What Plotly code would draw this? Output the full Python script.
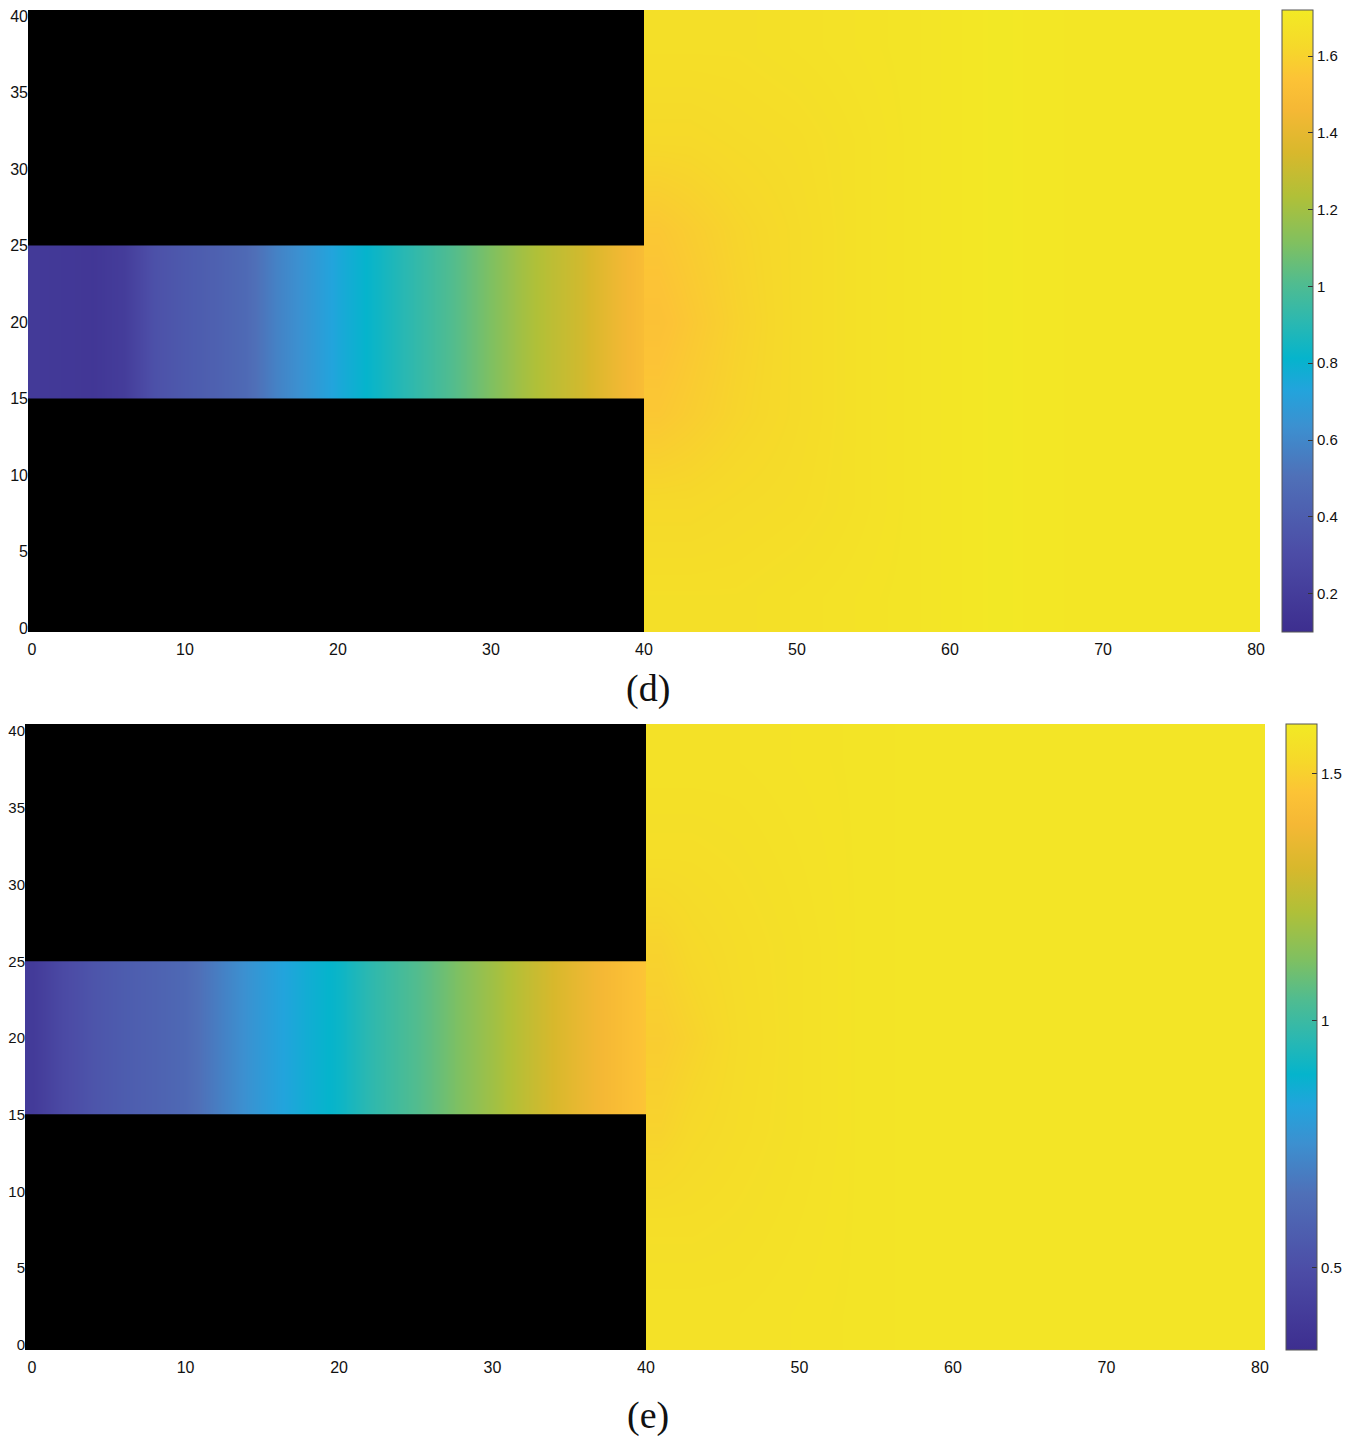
import plotly.graph_objects as go

# page is drawn with an 8 px body margin; lay out in screen pixels and shift
OFF = 8
W, H = 1350 - OFF, 1448 - OFF

# ---- colour scale (parula-like, as printed) ----
parula = [
    [0.000, "#3d2e8f"],
    [0.125, "#4c4ca6"],
    [0.250, "#4f70b8"],
    [0.330, "#3c90d0"],
    [0.390, "#22a4dc"],
    [0.440, "#05b4cc"],
    [0.500, "#2cb8b0"],
    [0.560, "#50bc90"],
    [0.625, "#80c060"],
    [0.700, "#b0c038"],
    [0.770, "#d8b82c"],
    [0.840, "#f5b835"],
    [0.890, "#fcc336"],
    [0.940, "#f6d82a"],
    [1.000, "#f2ea24"],
]

# ---- channel (x 0..40, y 15..25) profiles ----
chan_x = [0, 2, 4, 6, 8, 10, 12, 14, 16, 18, 20, 22, 24, 26, 28, 30, 32, 34, 36, 38, 40]
chan_y = [17.5, 22.5]
chan_d = [0.18, 0.17, 0.16, 0.20, 0.33, 0.38, 0.42, 0.47, 0.58, 0.66,
          0.75, 0.82, 0.89, 0.96, 1.03, 1.11, 1.20, 1.27, 1.33, 1.42, 1.50]
chan_e = [0.40, 0.48, 0.53, 0.565, 0.59, 0.62, 0.69, 0.76, 0.82, 0.865,
          0.905, 0.97, 1.02, 1.07, 1.13, 1.19, 1.25, 1.31, 1.37, 1.42, 1.47]

# ---- open region (x 40..80, y 0..40) ----
open_x = [41, 43, 46, 50, 54, 58, 63, 68, 73, 78]
open_y = [2, 8, 14, 20, 26, 32, 38]
d_y20 = [1.53, 1.56, 1.60, 1.64, 1.67, 1.69, 1.71, 1.70, 1.70, 1.70]
d_y14 = [1.56, 1.58, 1.61, 1.64, 1.67, 1.69, 1.71, 1.70, 1.70, 1.70]
d_y08 = [1.63, 1.63, 1.64, 1.65, 1.67, 1.69, 1.71, 1.70, 1.70, 1.70]
d_y02 = [1.66, 1.66, 1.66, 1.67, 1.68, 1.69, 1.71, 1.70, 1.70, 1.70]
e_y20 = [1.49, 1.51, 1.54, 1.56, 1.575, 1.58, 1.58, 1.58, 1.58, 1.58]
e_y14 = [1.51, 1.53, 1.545, 1.56, 1.575, 1.58, 1.58, 1.58, 1.58, 1.58]
e_y08 = [1.55, 1.55, 1.555, 1.565, 1.575, 1.58, 1.58, 1.58, 1.58, 1.58]
e_y02 = [1.565, 1.565, 1.565, 1.57, 1.575, 1.58, 1.58, 1.58, 1.58, 1.58]

# colour bar ranges and ticks
d_range = [0.1, 1.72]
d_ticks = [0.2, 0.4, 0.6, 0.8, 1.0, 1.2, 1.4, 1.6]
d_ticktext = ["0.2", "0.4", "0.6", "0.8", "1", "1.2", "1.4", "1.6"]
e_range = [0.334, 1.601]
e_ticks = [0.5, 1.0, 1.5]
e_ticktext = ["0.5", "1", "1.5"]

x_ticks = [0, 10, 20, 30, 40, 50, 60, 70, 80]
y_ticks = [0, 5, 10, 15, 20, 25, 30, 35, 40]

fig = go.Figure()

def add_panel(chan, rows, xa, ya, ca):
    fig.add_trace(go.Heatmap(x=chan_x, y=chan_y, z=[chan, chan], coloraxis=ca,
                             zsmooth="best", xaxis=xa, yaxis=ya, hoverinfo="skip"))
    y02, y08, y14, y20 = rows
    fig.add_trace(go.Heatmap(x=open_x, y=open_y, z=[y02, y08, y14, y20, y14, y08, y02],
                             coloraxis=ca, zsmooth="best", xaxis=xa, yaxis=ya,
                             hoverinfo="skip"))

add_panel(chan_d, (d_y02, d_y08, d_y14, d_y20), "x", "y", "coloraxis")
add_panel(chan_e, (e_y02, e_y08, e_y14, e_y20), "x2", "y2", "coloraxis2")

def fx(px):
    return (px - OFF) / W

def fy(py):
    return 1 - (py - OFF) / H

def px_x(a, b):
    return [fx(a), fx(b)]

def px_y(top, bottom):
    return [fy(bottom), fy(top)]

sans = "Liberation Sans, Arial, sans-serif"
xcommon = dict(tickvals=x_ticks, showgrid=False, zeroline=False,
               showline=False, ticks="outside", ticklen=3, tickcolor="rgba(0,0,0,0)",
               tickfont=dict(family=sans, size=16, color="#111"),
               fixedrange=True, automargin=False)
ycommon = dict(tickvals=y_ticks, showgrid=False, zeroline=False,
               showline=False, ticks="", fixedrange=True,
               automargin=False, ticklabeloverflow="allow", ticklabelstandoff=-1)

cb_common = dict(thickness=31, thicknessmode="pixels", lenmode="fraction",
                 xanchor="left", yanchor="middle", ticks="inside", ticklen=5,
                 tickcolor="#333", outlinecolor="#555", outlinewidth=1,
                 tickfont=dict(family=sans, size=15, color="#111"),
                 xpad=0, ypad=0)

fig.update_layout(
    width=W, height=H,
    margin=dict(l=0, r=0, t=0, b=0, autoexpand=False),
    paper_bgcolor="white",
    plot_bgcolor="black",
    showlegend=False,
    xaxis=dict(domain=px_x(28, 1260), anchor="y", range=[-0.26, 80.26], **xcommon),
    yaxis=dict(domain=px_y(10, 632), anchor="x", range=[-0.26, 40.39],
               tickfont=dict(family=sans, size=16, color="#111"), **ycommon),
    xaxis2=dict(domain=px_x(25, 1265), anchor="y2", range=[-0.46, 80.33], **xcommon),
    yaxis2=dict(domain=px_y(724, 1350), anchor="x2", range=[-0.33, 40.46],
                tickfont=dict(family=sans, size=15, color="#111"), **ycommon),
    coloraxis=dict(colorscale=parula, cmin=d_range[0], cmax=d_range[1],
                   colorbar=dict(x=fx(1282), y=fy(321), len=622 / H,
                                 tickvals=d_ticks, ticktext=d_ticktext, **cb_common)),
    coloraxis2=dict(colorscale=parula, cmin=e_range[0], cmax=e_range[1],
                    colorbar=dict(x=fx(1286), y=fy(1037), len=626 / H,
                                  tickvals=e_ticks, ticktext=e_ticktext, **cb_common)),
    annotations=[
        dict(text="(d)", x=fx(648), y=fy(688), xref="paper", yref="paper",
             showarrow=False, xanchor="center", yanchor="middle",
             font=dict(family="Liberation Serif, Times New Roman, serif", size=38, color="#111")),
        dict(text="(e)", x=fx(648), y=fy(1415), xref="paper", yref="paper",
             showarrow=False, xanchor="center", yanchor="middle",
             font=dict(family="Liberation Serif, Times New Roman, serif", size=38, color="#111")),
    ],
)

fig.write_html("out.html")
